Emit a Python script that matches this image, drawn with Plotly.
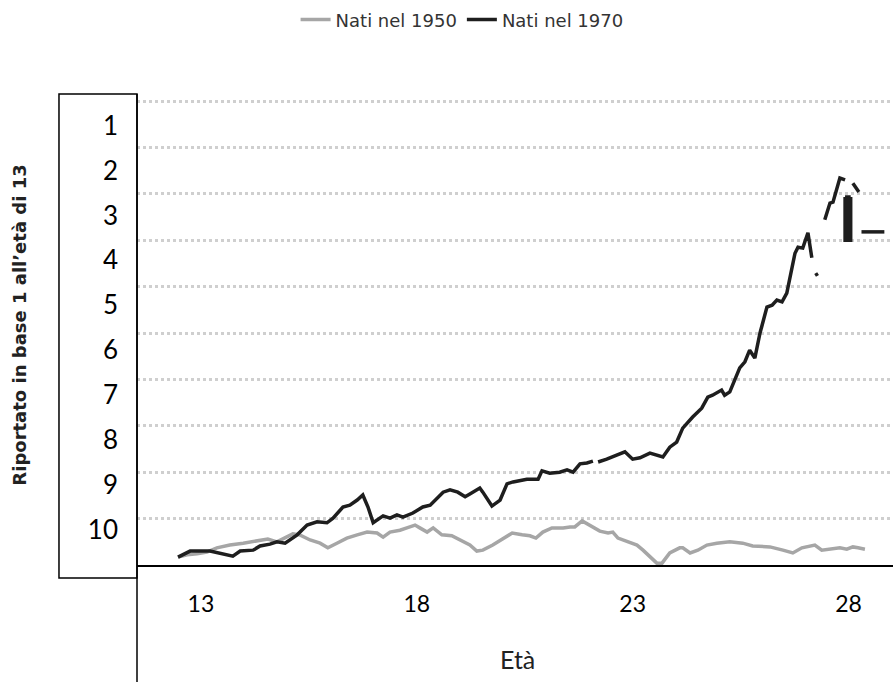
import plotly.graph_objects as go

# ---- data ----
age_1950 = [12.47, 12.68, 12.91, 13.14, 13.37, 13.67, 13.98, 14.30, 14.55, 14.76, 14.99, 15.13,
            15.29, 15.53, 15.76, 15.94, 16.15, 16.38, 16.62, 16.85, 17.08, 17.22, 17.38, 17.61,
            17.77, 17.96, 18.07, 18.24, 18.38, 18.58, 18.81, 19.00, 19.23, 19.39, 19.53, 19.76,
            20.00, 20.21, 20.44, 20.62, 20.76, 20.92, 21.13, 21.39, 21.55, 21.66, 21.83, 22.01,
            22.24, 22.43, 22.54, 22.66, 22.87, 23.10, 23.24, 23.45, 23.56, 23.68, 23.86, 24.09,
            24.16, 24.33, 24.51, 24.72, 24.95, 25.25, 25.55, 25.78, 26.18, 26.48, 26.71, 26.92,
            27.15, 27.22, 27.38, 27.57, 27.80, 27.96, 28.10, 28.22, 28.38]
val_1950 = [0.17, 0.22, 0.24, 0.28, 0.37, 0.43, 0.47, 0.52, 0.56, 0.50, 0.60, 0.67,
            0.65, 0.54, 0.47, 0.37, 0.47, 0.58, 0.65, 0.71, 0.69, 0.60, 0.71, 0.75,
            0.80, 0.86, 0.80, 0.71, 0.80, 0.65, 0.63, 0.54, 0.43, 0.30, 0.32, 0.43,
            0.58, 0.69, 0.65, 0.63, 0.58, 0.71, 0.80, 0.80, 0.82, 0.82, 0.95, 0.86,
            0.73, 0.69, 0.71, 0.58, 0.50, 0.43, 0.32, 0.13, 0.04, 0.04, 0.26, 0.37,
            0.37, 0.26, 0.32, 0.43, 0.47, 0.50, 0.47, 0.41, 0.39, 0.32, 0.26, 0.37,
            0.41, 0.43, 0.32, 0.34, 0.37, 0.34, 0.39, 0.37, 0.34]

age_1970 = [12.47, 12.75, 13.21, 13.44, 13.74, 13.91, 14.21, 14.37, 14.60, 14.76, 14.95, 15.23,
            15.46, 15.69, 15.92, 16.06, 16.29, 16.45, 16.62, 16.75, 16.87, 16.99, 17.22, 17.38,
            17.54, 17.68, 17.91, 18.14, 18.31, 18.61, 18.77, 18.95, 19.12, 19.23, 19.46, 19.53,
            19.74, 19.93, 20.09, 20.23, 20.55, 20.81, 20.90, 21.08, 21.31, 21.48, 21.62, 21.78,
            21.94, 22.08, None,
            22.20, 22.40, 22.63, 22.82, 23.00, 23.17, 23.40, 23.70, 23.86, 24.02, 24.16, 24.39,
            24.60, 24.74, 24.85, 25.06, 25.13, 25.25, 25.48, 25.60, 25.71, 25.83, 25.95, 26.11,
            26.23, 26.34, 26.46, 26.57, 26.76, 26.83, 26.94, 27.06, 27.15, None,
            27.24, 27.28, None,
            27.45, 27.57, 27.64, 27.80, 27.92, None,
            28.10, 28.24, None,
            27.92, 27.92, 27.96, 27.96, 28.01, 28.01, 28.05, 28.05, None,
            28.30, 28.83]
val_1970 = [0.17, 0.30, 0.30, 0.26, 0.19, 0.30, 0.32, 0.41, 0.45, 0.50, 0.47, 0.65,
            0.86, 0.93, 0.91, 1.01, 1.25, 1.29, 1.40, 1.51, 1.25, 0.91, 1.06, 1.01,
            1.08, 1.03, 1.12, 1.25, 1.29, 1.57, 1.62, 1.57, 1.47, 1.53, 1.66, 1.57,
            1.27, 1.40, 1.75, 1.79, 1.85, 1.85, 2.03, 1.98, 2.00, 2.05, 2.00, 2.18,
            2.20, 2.24, None,
            2.22, 2.28, 2.37, 2.44, 2.28, 2.31, 2.41, 2.33, 2.54, 2.65, 2.95, 3.19,
            3.38, 3.62, 3.66, 3.77, 3.66, 3.73, 4.25, 4.38, 4.63, 4.46, 5.00, 5.56,
            5.60, 5.71, 5.67, 5.86, 6.72, 6.85, 6.83, 7.16, 6.62, None,
            6.29, 6.23, None,
            7.44, 7.80, 7.82, 8.34, 8.30, None,
            8.23, 8.04, None,
            7.93, 7.00, 7.00, 7.93, 7.93, 7.00, 7.00, 7.93, None,
            7.18, 7.18]

x_ticks = [13, 18, 23, 28]
y_tick_labels = ["1", "2", "3", "4", "5", "6", "7", "8", "9", "10"]
grid_levels = [1, 2, 3, 4, 5, 6, 7, 8, 9, 10]

# ---- figure ----
fig = go.Figure()
fig.add_trace(go.Scatter(x=age_1950, y=val_1950, mode="lines", name="Nati nel 1950",
                         line=dict(color="#a6a6a6", width=3.5)))
fig.add_trace(go.Scatter(x=age_1970, y=val_1970, mode="lines", name="Nati nel 1970",
                         line=dict(color="#1e1e1e", width=3.5), connectgaps=False))

y_tick_pos = [9.47 - 0.968 * i for i in range(len(y_tick_labels))]

fig.update_layout(
    width=893, height=682,
    margin=dict(l=137, r=0, t=95, b=117),
    paper_bgcolor="white", plot_bgcolor="white",
    showlegend=True,
    legend=dict(orientation="h", x=0.43, xanchor="center", y=1.16, yanchor="middle",
                font=dict(family="DejaVu Sans", size=18, color="#333333"),
                itemwidth=30, bgcolor="rgba(0,0,0,0)"),
    xaxis=dict(range=[11.52, 29.03], tickvals=x_ticks, showgrid=False, zeroline=False,
               showline=True, linecolor="black", linewidth=1.5, ticks="",
               ticklabelstandoff=18,
               tickfont=dict(family="Lato", size=23, color="black")),
    yaxis=dict(range=[0, 10.13], tickvals=y_tick_pos, ticktext=y_tick_labels,
               showgrid=False, zeroline=False, showline=False, ticks="",
               ticklabelstandoff=18,
               tickfont=dict(family="Lato", size=26, color="black"),
               minor=dict(tickvals=grid_levels, showgrid=True, gridcolor="#cfcfcf",
                          griddash="dot", gridwidth=3, ticks="")),
    shapes=[
        dict(type="rect", xref="paper", yref="paper", x0=-0.1032, x1=0, y0=-0.0277, y1=1.002,
             line=dict(color="black", width=1.5), fillcolor="rgba(0,0,0,0)", layer="above"),
        dict(type="line", xref="paper", yref="paper", x0=0, x1=0, y0=-0.249, y1=1.002,
             line=dict(color="black", width=1.5), layer="above"),
    ],
    annotations=[
        dict(text="Età", xref="paper", yref="paper", x=0.503, y=-0.2, showarrow=False,
             xanchor="center", yanchor="middle",
             font=dict(family="Lato", size=25, color="#222222")),
        dict(text="<b>Riportato in base 1 all’età di 13</b>", xref="paper", yref="paper",
             x=-0.155, y=0.511, showarrow=False, textangle=-90,
             xanchor="center", yanchor="middle",
             font=dict(family="DejaVu Sans", size=18, color="#222222")),
    ],
)

fig.write_html("out.html", config={"displayModeBar": False},
               post_script="document.body.style.margin='0';document.body.style.overflow='hidden';")
